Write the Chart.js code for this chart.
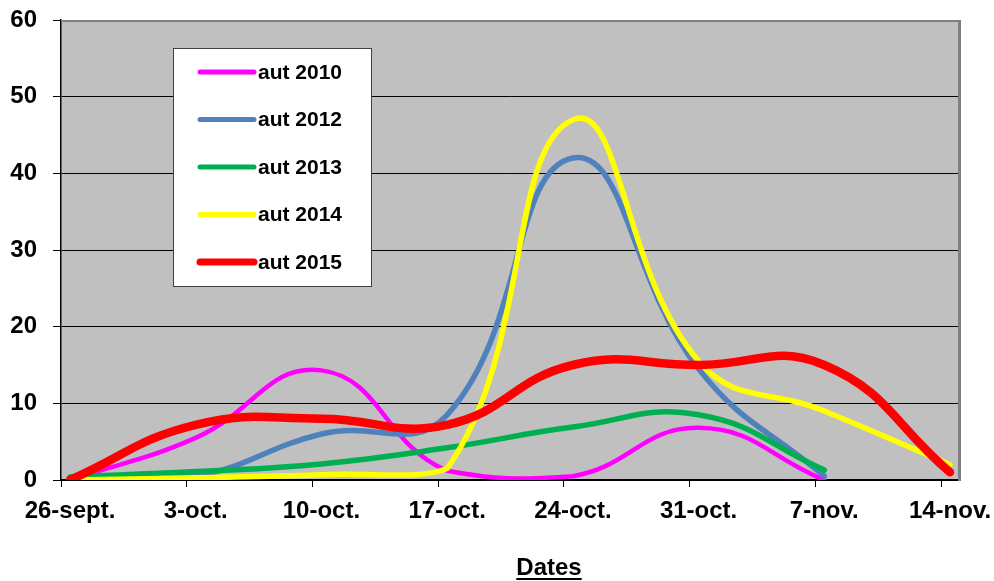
<!DOCTYPE html>
<html>
<head>
<meta charset="utf-8">
<script src="https://cdn.jsdelivr.net/npm/chart.js@4.4.1/dist/chart.umd.min.js"></script>
<style>
  html, body { margin: 0; padding: 0; background: #ffffff; }
</style>
</head>
<body>
<canvas id="myChart" width="994" height="581"></canvas>
<script>
// day index of each weekly reading (0 = 26-sept.)
var dayNums = [0, 7, 14, 21, 28, 35, 42, 49];
var dateLabels = ['26-sept.', '3-oct.', '10-oct.', '17-oct.', '24-oct.', '31-oct.', '7-nov.', '14-nov.'];
var yTicks = [0, 10, 20, 30, 40, 50, 60];

var seriesNames = ['aut 2010', 'aut 2012', 'aut 2013', 'aut 2014', 'aut 2015'];
var aut2010 = [0, 5.5, 14.3, 1.2, 0.5, 6.8, 0];
var aut2012 = [0, 0.5, 6, 8.5, 42, 14.5, 0.5];
var aut2013 = [0.4, 1.1, 2.1, 4.2, 6.9, 8.5, 1.3];
var aut2014 = [0, 0.3, 0.7, 1.5, 47, 15.5, 9, 2];
var aut2015 = [0, 7.2, 8, 7.2, 15, 15, 15, 1];

var seriesColors = ['#FF00FF', '#4F81BD', '#00B050', '#FFFF00', '#FF0000'];
var seriesWidths = [4.5, 5.5, 5.5, 5.5, 8.5];

var FONT = 'Arial, "Liberation Sans", sans-serif';

window.onload = function()
{
    var ctx = document.getElementById('myChart').getContext('2d');
    var allSeries = [aut2010, aut2012, aut2013, aut2014, aut2015];

    var datasets = allSeries.map(function(values, s)
    {
        return {
            label: seriesNames[s],
            data: values.map(function(v, i) { return { x: dayNums[i], y: v }; }),
            borderColor: seriesColors[s],
            backgroundColor: seriesColors[s],
            borderWidth: seriesWidths[s],
            borderCapStyle: 'round',
            borderJoinStyle: 'round',
            pointRadius: 0,
            tension: 0.45,
            fill: false,
            order: 5 - s
        };
    });

    // x ticks sit on the day boundaries, labels in the middle of the day
    var xTickVals = dayNums.map(function(d) { return d - 0.5; });

    var plotFrame = {
        id: 'plotFrame',
        beforeDraw: function(chart)
        {
            var a = chart.chartArea;
            var c = chart.ctx;
            c.save();
            c.fillStyle = '#C0C0C0';
            c.fillRect(a.left, a.top, a.right - a.left, a.bottom - a.top);
            c.restore();
        },
        beforeDatasetsDraw: function(chart)
        {
            var a = chart.chartArea;
            var c = chart.ctx;
            c.save();
            c.strokeStyle = '#808080';
            c.lineWidth = 2;
            c.beginPath();
            c.moveTo(a.left, a.top + 1);
            c.lineTo(a.right, a.top + 1);
            c.stroke();
            c.lineWidth = 3;
            c.beginPath();
            c.moveTo(a.right + 0.5, a.top);
            c.lineTo(a.right + 0.5, a.bottom + 1);
            c.stroke();
            c.restore();
        },
        afterDraw: function(chart)
        {
            var c = chart.ctx;
            c.save();
            // legend box
            var bx = 173, by = 48, bw = 198, bh = 238;
            c.fillStyle = '#ffffff';
            c.fillRect(bx, by, bw, bh);
            c.strokeStyle = '#404040';
            c.lineWidth = 1;
            c.strokeRect(bx + 0.5, by + 0.5, bw, bh);
            c.font = 'bold 21px ' + FONT;
            c.textBaseline = 'middle';
            c.textAlign = 'left';
            chart.data.datasets.forEach(function(ds, i)
            {
                var ly = 72 + i * 47.5;
                c.strokeStyle = ds.borderColor;
                c.lineWidth = i === 4 ? 7 : 5;
                c.lineCap = 'round';
                c.beginPath();
                c.moveTo(200, ly);
                c.lineTo(254, ly);
                c.stroke();
                c.fillStyle = '#000000';
                c.fillText(ds.label, 258, ly + 1);
            });
            // axis title, underlined
            c.font = 'bold 24px ' + FONT;
            c.textAlign = 'center';
            c.textBaseline = 'alphabetic';
            c.fillStyle = '#000000';
            c.fillText('Dates', 549, 575);
            var w = c.measureText('Dates').width;
            c.fillRect(549 - w / 2, 578, w, 2);
            c.restore();
        }
    };

    var myChart = new Chart(ctx,
    {
        type: 'line',
        data: { datasets: datasets },
        plugins: [plotFrame],
        options:
        {
            responsive: false,
            animation: false,
            layout: { padding: { left: 0, right: 35, top: 20, bottom: 0 } },
            plugins:
            {
                legend: { display: false },
                tooltip: { enabled: false }
            },
            scales:
            {
                x:
                {
                    type: 'linear',
                    min: -0.5,
                    max: 49.5,
                    afterBuildTicks: function(scale)
                    {
                        scale.ticks = xTickVals.map(function(v) { return { value: v }; });
                    },
                    afterFit: function(scale)
                    {
                        scale.height = 101;
                        scale.paddingLeft = 0;
                        scale.paddingRight = 0;
                    },
                    grid:
                    {
                        drawOnChartArea: false,
                        drawTicks: true,
                        tickLength: 7,
                        color: '#000000'
                    },
                    border: { color: '#000000', width: 1.5 },
                    ticks:
                    {
                        autoSkip: false,
                        maxRotation: 0,
                        padding: 10,
                        labelOffset: 9,
                        color: '#000000',
                        font: { family: FONT, size: 24, weight: 'bold' },
                        callback: function(value)
                        {
                            var idx = Math.round((value + 0.5) / 7);
                            return dateLabels[idx];
                        }
                    }
                },
                y:
                {
                    min: 0,
                    max: 60,
                    afterBuildTicks: function(scale)
                    {
                        scale.ticks = yTicks.map(function(v) { return { value: v }; });
                    },
                    afterFit: function(scale)
                    {
                        scale.width = 61;
                        scale.paddingTop = 0;
                        scale.paddingBottom = 0;
                    },
                    grid:
                    {
                        color: '#000000',
                        lineWidth: 1,
                        tickLength: 8
                    },
                    border: { color: '#000000', width: 1.5 },
                    ticks:
                    {
                        padding: 16,
                        color: '#000000',
                        font: { family: FONT, size: 24, weight: 'bold' }
                    }
                }
            }
        }
    });
};
</script>
</body>
</html>
